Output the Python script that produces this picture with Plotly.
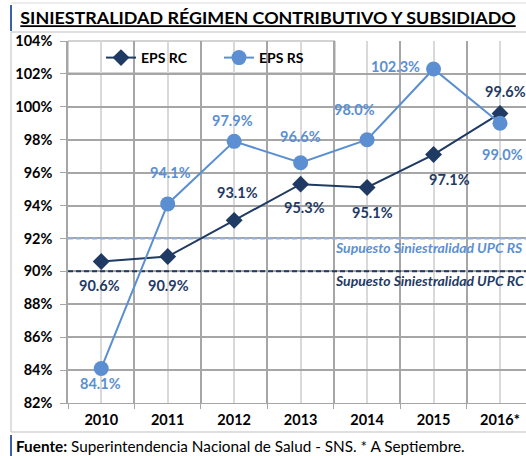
import plotly.graph_objects as go

# data
years = ["2010", "2011", "2012", "2013", "2014", "2015", "2016*"]
eps_rc = [90.6, 90.9, 93.1, 95.3, 95.1, 97.1, 99.6]
eps_rs = [84.1, 94.1, 97.9, 96.6, 98.0, 102.3, 99.0]
upc_rc = 90.0
upc_rs = 92.0
y_ticks = [82, 84, 86, 88, 90, 92, 94, 96, 98, 100, 102, 104]

# label offsets in px (xshift, yshift)
rc_shift = [(-2, -24), (1, -29), (3, 28), (4, -23), (5, -25), (16, -25), (5, 22)]
rs_shift = [(-1, -15), (3, 31), (-2, 21), (0, 26), (-13, 30), (-38, 2), (2, -31)]

NAVY = "#1F3A63"
BLUE = "#5B8FD2"
FONT = "Lato"

x = list(range(len(years)))

fig = go.Figure()

# assumed loss ratio lines
fig.add_trace(go.Scatter(
    x=[-0.5, len(years)], y=[upc_rs, upc_rs], mode="lines",
    line=dict(color="#8DB3E2", width=2, dash="5px,3px"),
    showlegend=False, hoverinfo="skip"
))
fig.add_trace(go.Scatter(
    x=[-0.5, len(years)], y=[upc_rc, upc_rc], mode="lines",
    line=dict(color=NAVY, width=2, dash="5px,3px"),
    showlegend=False, hoverinfo="skip"
))

fig.add_trace(go.Scatter(
    x=x, y=eps_rc, name="<b>EPS RC</b>", mode="lines+markers",
    line=dict(color=NAVY, width=2),
    marker=dict(symbol="diamond", size=13, color=NAVY)
))
fig.add_trace(go.Scatter(
    x=x, y=eps_rs, name="<b>EPS RS</b>", mode="lines+markers",
    line=dict(color=BLUE, width=2),
    marker=dict(symbol="circle", size=15, color=BLUE)
))

annotations = []
for i in x:
    annotations.append(dict(
        x=i, y=eps_rc[i], text=f"<b>{eps_rc[i]:.1f}%</b>", showarrow=False,
        xshift=rc_shift[i][0], yshift=rc_shift[i][1],
        font=dict(family=FONT, size=14.5, color=NAVY)
    ))
    annotations.append(dict(
        x=i, y=eps_rs[i], text=f"<b>{eps_rs[i]:.1f}%</b>", showarrow=False,
        xshift=rs_shift[i][0], yshift=rs_shift[i][1],
        font=dict(family=FONT, size=14.5, color=BLUE)
    ))

annotations.append(dict(
    xref="paper", x=(525 - 68) / 458, xanchor="right", y=upc_rs, yshift=-9,
    text="<b><i>Supuesto Siniestralidad UPC RS</i></b>", showarrow=False,
    font=dict(family=FONT, size=14, color=BLUE)
))
annotations.append(dict(
    xref="paper", x=(526 - 68) / 458, xanchor="right", y=upc_rc, yshift=-9,
    text="<b><i>Supuesto Siniestralidad UPC RC</i></b>", showarrow=False,
    font=dict(family=FONT, size=14, color=NAVY)
))


def px(v):
    return (v - 68) / 458


def py(v):
    return (403 - v) / 362


# footer
annotations.append(dict(
    xref="paper", yref="paper", x=px(14), xanchor="left",
    y=py(446), yanchor="middle", showarrow=False,
    text="<b>Fuente:</b> Superintendencia Nacional de Salud - SNS. * A Septiembre.",
    font=dict(family=FONT, size=15.3, color="#000000")
))

shapes = [
    # legend box
    dict(type="rect", xref="paper", yref="paper", x0=0, x1=px(335), y0=py(73), y1=1,
         fillcolor="white", line=dict(color="#A6A6A6", width=1), layer="between"),
    # chart frame
    dict(type="line", xref="paper", yref="paper", x0=px(11), x1=1.1, y0=py(32), y1=py(32),
         line=dict(color="#BFBFBF", width=1)),
    dict(type="line", xref="paper", yref="paper", x0=px(11), x1=1.1, y0=py(3), y1=py(3),
         line=dict(color="#D9D9D9", width=1)),
    dict(type="line", xref="paper", yref="paper", x0=px(11), x1=px(11), y0=py(32), y1=py(432),
         line=dict(color="#BFBFBF", width=1)),
    dict(type="line", xref="paper", yref="paper", x0=px(11), x1=1.1, y0=py(432), y1=py(432),
         line=dict(color="#BFBFBF", width=1)),
    # blue side bars
    dict(type="line", xref="paper", yref="paper", x0=px(11), x1=px(11), y0=py(5), y1=py(31),
         line=dict(color="#3F5FA8", width=2)),
    dict(type="line", xref="paper", yref="paper", x0=px(11), x1=px(11), y0=py(435), y1=py(458),
         line=dict(color="#3F5FA8", width=2)),
]

fig.update_layout(
    width=526, height=456,
    margin=dict(l=68, r=0, t=41, b=53),
    paper_bgcolor="white", plot_bgcolor="white",
    font=dict(family=FONT, color="#000000"),
    title=dict(
        text="<b><u>SINIESTRALIDAD RÉGIMEN CONTRIBUTIVO Y SUBSIDIADO</u></b>",
        x=268 / 526, xanchor="center", y=1 - 18 / 456, yanchor="middle",
        xref="container", yref="container",
        font=dict(family=FONT, size=17.9, color="#000000")
    ),
    showlegend=True,
    legend=dict(
        orientation="h", xref="paper", yref="paper",
        x=px(101), xanchor="left", y=py(58), yanchor="middle",
        bgcolor="rgba(0,0,0,0)", borderwidth=0,
        font=dict(family=FONT, size=14, color="#000000"),
        entrywidth=73, itemwidth=30
    ),
    annotations=annotations,
    shapes=shapes,
    hovermode=False
)

fig.update_xaxes(
    range=[-0.5, (526 - 101) / 66.5], tickmode="array", tickvals=x,
    ticktext=[f"<b>{y}</b>" for y in years],
    ticks="", showgrid=True, gridcolor="#D9D9D9", gridwidth=1.5,
    showline=True, linecolor="#A6A6A6", linewidth=1, zeroline=False,
    tickfont=dict(family=FONT, size=14.5, color="#000000"),
    ticklabelstandoff=4,
    minor=dict(tickmode="linear", tick0=-0.5, dtick=1, ticks="outside", ticklen=5,
               tickcolor="#A6A6A6", showgrid=True, gridcolor="#A6A6A6", gridwidth=1.5)
)
fig.update_yaxes(
    range=[82, 104], tickmode="array", tickvals=y_ticks,
    ticktext=[f"<b>{v}%</b>" for v in y_ticks],
    ticks="outside", ticklen=6, tickcolor="#A6A6A6",
    showgrid=True, gridcolor="#A6A6A6", gridwidth=1.5,
    showline=True, linecolor="#A6A6A6", linewidth=1.5, zeroline=False,
    tickfont=dict(family=FONT, size=14.5, color="#000000"),
    ticklabelstandoff=5
)

fig.write_html("out.html", config={"displayModeBar": False},
               post_script="document.body.style.margin='0';")
